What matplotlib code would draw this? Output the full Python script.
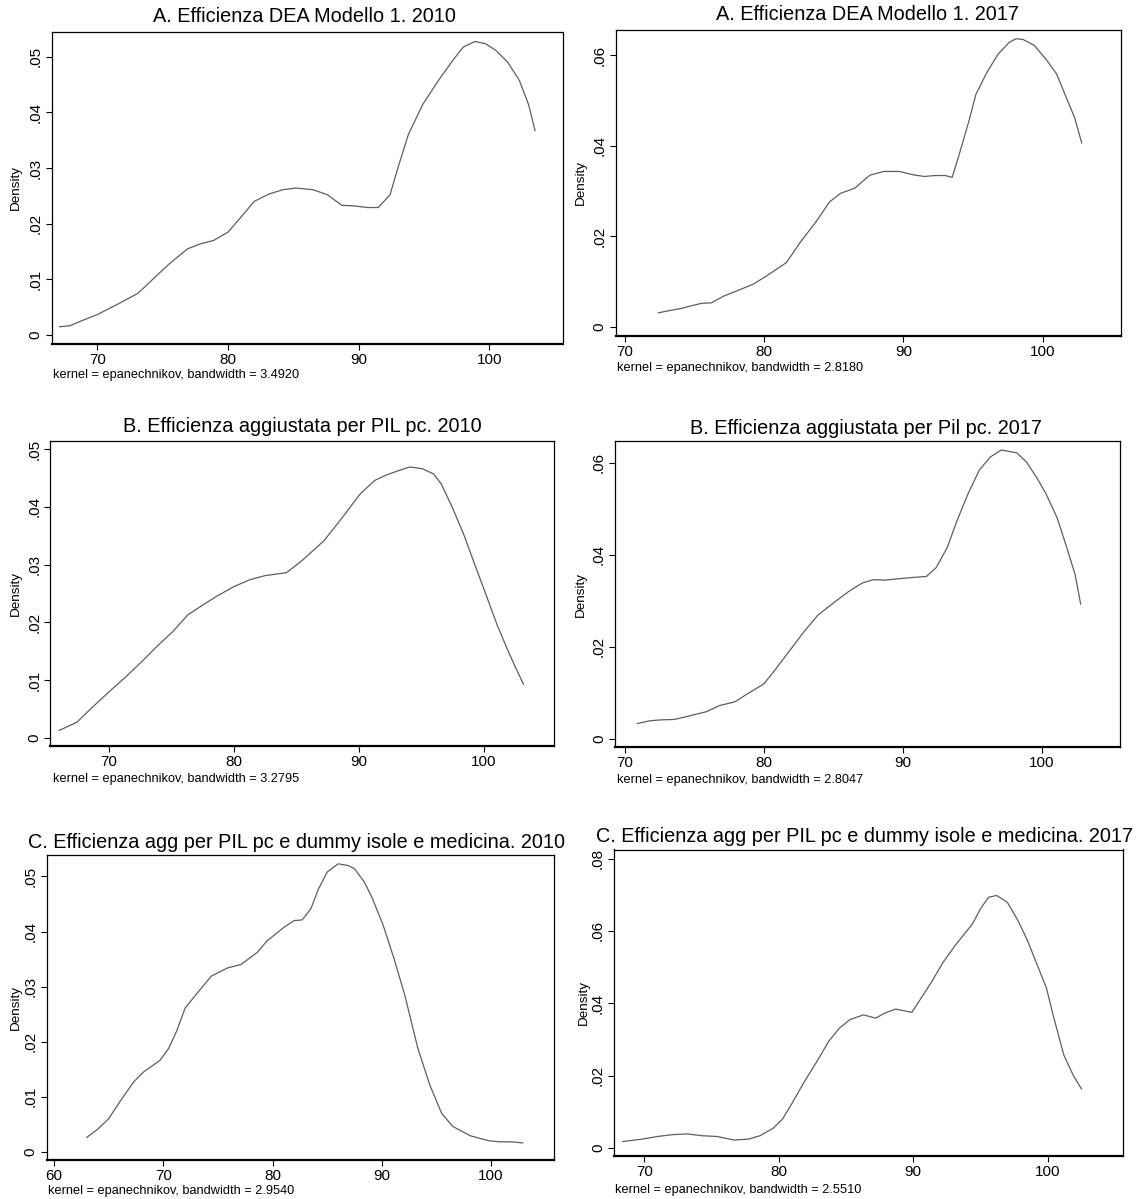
import numpy as np
import matplotlib
matplotlib.use('Agg')
import matplotlib.pyplot as plt
from matplotlib.ticker import FuncFormatter

plt.rcParams['font.family'] = ['Liberation Sans', 'DejaVu Sans']

# Dati (punti delle curve kdensity)
x_a2010 = [67.1, 67.9, 68.7, 70.0, 71.5, 73.1, 74.4, 75.5, 76.9, 77.9, 78.9, 80.0, 81.1, 82.0,
           83.1, 84.2, 85.2, 86.5, 87.6, 88.7, 89.6, 90.7, 91.5, 92.4, 93.0, 93.8, 94.9, 96.1,
           97.2, 98.0, 98.9, 99.7, 100.5, 101.4, 102.3, 103.0, 103.5]
d_a2010 = [.0015, .0017, .0025, .0037, .0055, .0075, .0104, .0128, .0155, .0164, .0170, .0185,
           .0215, .0240, .0253, .0261, .0264, .0261, .0252, .0233, .0232, .0229, .0229, .0252,
           .0300, .0360, .0414, .0457, .0493, .0517, .0527, .0523, .0511, .0490, .0457, .0414, .0367]

x_a2017 = [72.4, 73.2, 74.1, 74.7, 75.5, 76.2, 77.1, 78.0, 79.2, 80.2, 81.6, 82.6, 83.7, 84.7,
           85.5, 86.5, 87.6, 88.6, 89.7, 90.8, 91.5, 92.3, 93.0, 93.5, 94.0, 94.7, 95.2, 96.0,
           96.8, 97.6, 98.1, 98.6, 99.4, 100.3, 101.0, 101.6, 102.3, 102.8]
d_a2017 = [.0031, .0036, .0041, .0046, .0052, .0053, .0068, .0079, .0094, .0113, .0142, .0187,
           .0231, .0276, .0295, .0306, .0335, .0343, .0343, .0335, .0332, .0334, .0334, .0330,
           .0380, .0454, .0513, .0562, .0602, .0628, .0636, .0634, .0621, .0588, .0558, .0513,
           .0461, .0406]

x_b2010 = [66.0, 67.4, 68.6, 70.1, 71.3, 72.7, 73.9, 75.1, 76.3, 77.5, 78.6, 80.0, 81.3, 82.5,
           84.2, 85.4, 87.2, 88.7, 90.1, 91.3, 92.2, 93.1, 94.1, 95.1, 96.0, 96.6, 97.5, 98.4,
           99.3, 100.2, 101.1, 102.0, 102.5, 103.2]
d_b2010 = [.0013, .0027, .0052, .0082, .0105, .0134, .0160, .0184, .0213, .0230, .0245, .0262,
           .0274, .0281, .0286, .0306, .0341, .0382, .0422, .0446, .0455, .0462, .0469, .0466,
           .0457, .0440, .0399, .0353, .0300, .0248, .0195, .0149, .0125, .0093]

x_b2017 = [70.9, 71.8, 72.6, 73.6, 74.7, 75.9, 76.8, 77.9, 78.9, 80.0, 80.8, 81.8, 82.9, 83.9,
           85.0, 86.1, 87.1, 87.9, 88.7, 89.7, 90.8, 91.7, 92.4, 93.2, 93.9, 94.7, 95.5, 96.3,
           97.1, 98.2, 98.9, 99.7, 100.3, 101.1, 101.8, 102.4, 102.8]
d_b2017 = [.0033, .0039, .0041, .0042, .0050, .0059, .0072, .0080, .0099, .0119, .0149, .0189,
           .0233, .0269, .0295, .0320, .0339, .0346, .0345, .0348, .0351, .0353, .0372, .0416,
           .0474, .0533, .0584, .0613, .0628, .0622, .0602, .0565, .0533, .0481, .0416, .0357, .0293]

x_c2010 = [63.0, 64.0, 65.0, 66.2, 67.3, 68.2, 69.7, 70.5, 71.2, 72.0, 73.1, 74.4, 75.9, 77.1,
           78.6, 79.5, 81.0, 82.0, 82.7, 83.5, 84.2, 85.0, 86.0, 86.9, 87.5, 88.4, 89.1, 90.1,
           91.1, 92.1, 93.3, 94.4, 95.5, 96.5, 98.1, 99.8, 100.8, 101.9, 102.9]
d_c2010 = [.0026, .0041, .0060, .0096, .0127, .0145, .0166, .0188, .0218, .0261, .0288, .0319,
           .0334, .0340, .0362, .0383, .0407, .0420, .0421, .0441, .0477, .0508, .0523, .0520,
           .0514, .0490, .0462, .0413, .0352, .0285, .0188, .0121, .0069, .0046, .0029, .0020,
           .0018, .0018, .0016]

x_c2017 = [68.4, 69.9, 71.0, 72.1, 73.2, 74.3, 75.4, 76.7, 77.8, 78.6, 79.6, 80.3, 80.9, 81.9,
           82.9, 83.7, 84.5, 85.3, 86.3, 87.2, 87.9, 88.7, 89.9, 90.6, 91.4, 92.2, 93.1, 93.9,
           94.4, 95.0, 95.6, 96.2, 97.0, 97.8, 98.5, 99.2, 99.9, 100.4, 101.2, 101.9, 102.5]
d_c2017 = [.0018, .0025, .0032, .0037, .0039, .0034, .0032, .0022, .0025, .0034, .0055, .0081,
           .0118, .0183, .0243, .0294, .0331, .0355, .0368, .0359, .0373, .0384, .0375, .0415,
           .0461, .0512, .0559, .0596, .0619, .0661, .0693, .0698, .0679, .0628, .0573, .0508,
           .0443, .0368, .0257, .0201, .0164]

titoli = ['A. Efficienza DEA Modello 1. 2010',
          'A. Efficienza DEA Modello 1. 2017',
          'B. Efficienza aggiustata per PIL pc. 2010',
          'B. Efficienza aggiustata per Pil pc. 2017',
          'C. Efficienza agg per PIL pc e dummy isole e medicina. 2010',
          'C. Efficienza agg per PIL pc e dummy isole e medicina. 2017']
bandwidth = ['3.4920', '2.8180', '3.2795', '2.8047', '2.9540', '2.5510']
serie_x = [x_a2010, x_a2017, x_b2010, x_b2017, x_c2010, x_c2017]
serie_d = [d_a2010, d_a2017, d_b2010, d_b2017, d_c2010, d_c2017]
yticks = [[0, .01, .02, .03, .04, .05], [0, .02, .04, .06], [0, .01, .02, .03, .04, .05],
          [0, .02, .04, .06], [0, .01, .02, .03, .04, .05], [0, .02, .04, .06, .08]]
xticks = [[70, 80, 90, 100]] * 4 + [[60, 70, 80, 90, 100], [70, 80, 90, 100]]

# geometria dei pannelli in pixel: (x0, x1, y0, y1), limiti assi
box = [(51.5, 562.5, 32, 343.5), (615.7, 1120.7, 29.6, 335.5), (50.4, 554.4, 441, 746),
       (615, 1119.6, 441.3, 747), (46.7, 554.4, 855, 1160), (614, 1123, 849.5, 1156)]
xlims = [(66.48, 105.6), (69.34, 105.6), (65.29, 105.68), (69.3, 105.6), (59.33, 105.8), (67.75, 105.6)]
ylims = [(-.0015, .0544), (-.0019, .0656), (-.0014, .0514), (-.0018, .0647), (-.0015, .0539), (-.0022, .0825)]
titolo_pos = [(304, 17), (867, 15), (302, 427), (866, 428), (297, 842), (865, 836)]
kernel_pos = [(53, 375), (617, 368), (53, 779), (617, 780), (48, 1191), (615, 1190)]
density_x = [16, 581, 16, 581, 16, 584]

W, H = 1137, 1199
fig = plt.figure(figsize=(W / 100, H / 100), dpi=100)


def stata_fmt(v, pos):
    if abs(v) < 1e-9:
        return '0'
    return ('%.2f' % v).lstrip('0')


for i in range(6):
    x0, x1, y0, y1 = box[i]
    ax = fig.add_axes([x0 / W, 1 - y1 / H, (x1 - x0) / W, (y1 - y0) / H])
    ax.plot(serie_x[i], serie_d[i], color='#5e5e5e', lw=0.9)
    ax.set_xlim(xlims[i])
    ax.set_ylim(ylims[i])
    ax.set_xticks(xticks[i])
    ax.set_yticks(yticks[i])
    ax.yaxis.set_major_formatter(FuncFormatter(stata_fmt))
    ax.tick_params(direction='out', length=4, width=0.8, labelsize=11, pad=2.5, colors='black')
    for lab in ax.get_yticklabels():
        lab.set_rotation(90)
        lab.set_va('center')
    for s in ax.spines.values():
        s.set_linewidth(0.9)
        s.set_color('black')
    ax.spines['bottom'].set_linewidth(1.6)
    tx, ty = titolo_pos[i]
    fig.text(tx / W, 1 - ty / H, titoli[i], ha='center', va='center', fontsize=14.3)
    kx, ky = kernel_pos[i]
    fig.text(kx / W, 1 - ky / H, 'kernel = epanechnikov, bandwidth = ' + bandwidth[i],
             ha='left', va='center', fontsize=9.2)
    fig.text(density_x[i] / W, 1 - ((y0 + y1) / 2) / H, 'Density', rotation=90,
             ha='center', va='center', fontsize=9.7)

plt.savefig('out.png', dpi=100)
